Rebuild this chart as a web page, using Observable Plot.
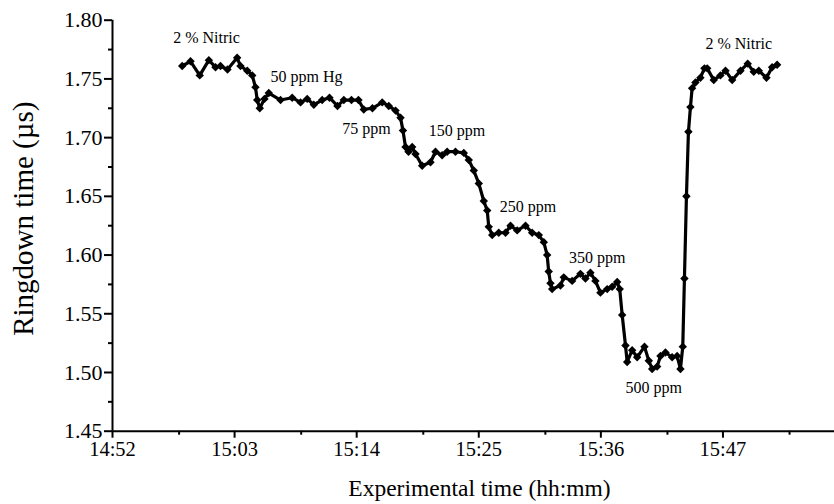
<!DOCTYPE html>
<html>
<head>
<meta charset="utf-8">
<script src="https://cdn.jsdelivr.net/npm/d3@7"></script>
<script src="https://cdn.jsdelivr.net/npm/@observablehq/plot@0.6"></script>
<style>
  html, body { margin: 0; padding: 0; background: #fff; }
  #chart { width: 834px; height: 504px; }
  #chart svg, #chart svg text { font-family: "Liberation Serif", "Times New Roman", serif !important; }
</style>
</head>
<body>
<div id="chart"></div>
<script>
// Sample times, in minutes past 14:00
const sampleMinutes = [
  58.28, 59.03, 59.86, 60.68, 61.28, 61.73, 62.36, 63.23, 63.53, 64.14,
  64.59, 64.88, 65.04, 65.27, 65.69, 66.08, 67.14, 68.19, 68.94, 69.54,
  70.14, 70.89, 71.55, 72.27, 72.84, 73.53, 74.16, 74.64, 75.42, 76.30,
  76.89, 77.50, 77.95, 78.17, 78.40, 78.67, 79.00, 79.30, 79.90, 80.65,
  81.10, 81.70, 82.15, 82.90, 83.65, 84.10, 84.55, 85.00, 85.45, 85.76,
  85.90, 86.21, 86.80, 87.41, 87.86, 88.46, 89.21, 89.81, 90.41, 90.86,
  91.16, 91.30, 91.46, 91.61, 92.36, 92.66, 93.41, 94.16, 94.61, 95.06,
  95.51, 95.96, 96.57, 97.02, 97.47, 97.70, 97.92, 98.22, 98.37, 98.82,
  99.27, 99.93, 100.32, 100.62, 101.07, 101.37, 101.82, 102.42, 102.87, 103.17,
  103.38, 103.53, 103.71, 103.89, 104.07, 104.22, 104.52, 104.97, 105.33, 105.58,
  106.17, 106.77, 107.23, 107.83, 108.58, 109.23, 109.77, 110.23, 110.92, 111.43, 111.88
];

// Ringdown time (µs) at each sample
const ringdown = [
  1.761, 1.765, 1.753, 1.766, 1.760, 1.761, 1.758, 1.768, 1.761, 1.757,
  1.753, 1.743, 1.732, 1.725, 1.733, 1.738, 1.732, 1.734, 1.730, 1.733,
  1.728, 1.732, 1.734, 1.727, 1.732, 1.732, 1.732, 1.724, 1.725, 1.730,
  1.727, 1.723, 1.717, 1.706, 1.692, 1.688, 1.692, 1.686, 1.676, 1.679,
  1.688, 1.685, 1.688, 1.688, 1.687, 1.681, 1.672, 1.661, 1.646, 1.638,
  1.624, 1.617, 1.619, 1.619, 1.625, 1.621, 1.625, 1.619, 1.617, 1.611,
  1.600, 1.586, 1.576, 1.571, 1.574, 1.581, 1.578, 1.584, 1.580, 1.585,
  1.578, 1.568, 1.571, 1.573, 1.577, 1.571, 1.549, 1.523, 1.509, 1.519,
  1.513, 1.522, 1.510, 1.503, 1.505, 1.514, 1.517, 1.513, 1.514, 1.503,
  1.522, 1.580, 1.650, 1.705, 1.726, 1.742, 1.747, 1.751, 1.759, 1.759,
  1.749, 1.753, 1.757, 1.749, 1.757, 1.763, 1.756, 1.757, 1.751, 1.760, 1.762
];

// Solution annotations: text, time (minutes past 14:00), ringdown level
const noteText    = ["2 % Nitric", "50 ppm Hg", "75 ppm", "150 ppm", "250 ppm", "350 ppm", "500 ppm", "2 % Nitric"];
const noteMinutes = [60.47, 69.48, 74.88, 83.04, 89.44, 95.67, 100.77, 108.42];
const noteValue   = [1.7847, 1.7521, 1.7075, 1.7061, 1.6408, 1.5977, 1.4867, 1.7799];

// Axis ticks
const xTickLabels  = ["14:52", "15:03", "15:14", "15:25", "15:36", "15:47"];
const xMinorLabels = ["14:58", "15:09", "15:20", "15:31", "15:42", "15:53"];
const yTicks       = [1.45, 1.50, 1.55, 1.60, 1.65, 1.70, 1.75, 1.80];
const yMinorTicks  = [1.475, 1.525, 1.575, 1.625, 1.675, 1.725, 1.775];

const base = new Date(2000, 0, 1, 14, 0, 0);
const at = (m) => new Date(base.getTime() + m * 60000);
const clock = (s) => { const [h, m] = s.split(":").map(Number); return new Date(2000, 0, 1, h, m, 0); };

const series = sampleMinutes.map((m, i) => ({ time: at(m), value: ringdown[i] }));
const notes = noteText.map((t, i) => ({ text: t, time: at(noteMinutes[i]), value: noteValue[i] }));

const serif = "'Liberation Serif', 'Times New Roman', serif";
const noText = () => "";

const chart = Plot.plot({
  width: 834,
  height: 504,
  marginLeft: 112,
  marginRight: 0,
  marginTop: 19.7,
  marginBottom: 73.3,
  style: { fontFamily: serif, background: "#fff", color: "#000", overflow: "visible" },
  x: { type: "time", domain: [clock("14:52"), at(117.05)] },
  y: { domain: [1.45, 1.80] },
  marks: [
    // axis lines
    Plot.ruleX([clock("14:52")], { stroke: "#000", strokeWidth: 2 }),
    Plot.ruleY([1.45], { stroke: "#000", strokeWidth: 2 }),
    // x ticks
    Plot.axisX(xTickLabels.map(clock), {
      tickSize: 7, tickPadding: 3, strokeWidth: 2, fontSize: 20.5,
      tickFormat: d3.timeFormat("%H:%M"), label: null
    }),
    Plot.axisX(xMinorLabels.map(clock), {
      tickSize: 4, strokeWidth: 2, tickFormat: noText, label: null
    }),
    // y ticks
    Plot.axisY(yTicks, {
      tickSize: 8, tickPadding: 2, strokeWidth: 2, fontSize: 22,
      tickFormat: (d) => d.toFixed(2), label: null
    }),
    Plot.axisY(yMinorTicks, {
      tickSize: 4, strokeWidth: 2, tickFormat: noText, label: null
    }),
    // axis titles
    Plot.text(["Experimental time (hh:mm)"], {
      frameAnchor: "bottom", textAnchor: "middle", lineAnchor: "middle", dx: 6, dy: 57, fontSize: 23.5
    }),
    Plot.text(["Ringdown time (µs)"], {
      frameAnchor: "left", textAnchor: "middle", lineAnchor: "middle", rotate: -90, dx: -89, dy: -7, fontSize: 29
    }),
    // data
    Plot.line(series, { x: "time", y: "value", stroke: "#000", strokeWidth: 3.2, strokeLinejoin: "round" }),
    Plot.dot(series, { x: "time", y: "value", symbol: "diamond2", r: 3.8, fill: "#000", stroke: null }),
    // annotations
    Plot.text(notes, { x: "time", y: "value", text: "text", fontSize: 16, fill: "#000" })
  ]
});

document.getElementById("chart").append(chart);
</script>
</body>
</html>
